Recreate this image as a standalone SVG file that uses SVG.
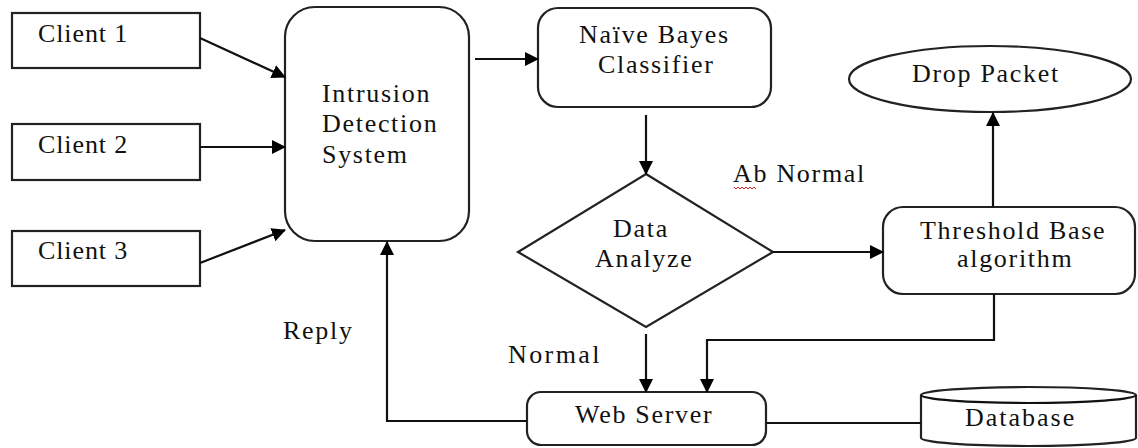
<svg xmlns="http://www.w3.org/2000/svg" width="1138" height="448" viewBox="0 0 1138 448">
<style>
.box{fill:#fff;stroke:#222;stroke-width:2.2}
.ln{fill:none;stroke:#111;stroke-width:2.2}
.t{font-family:"Liberation Serif","Times New Roman",serif;font-size:26px;fill:#111;letter-spacing:1.7px}
.c{letter-spacing:0.9px}
</style>
<defs>
<marker id="ah" markerUnits="userSpaceOnUse" markerWidth="14" markerHeight="14" refX="13" refY="7" orient="auto">
<path d="M0,0 L14,7 L0,14 z" fill="#000"/>
</marker>
</defs>
<rect width="1138" height="448" fill="#fff"/>
<g id="client1"><rect class="box" x="12" y="13" width="188" height="55"/><text class="t c" x="38" y="42">Client 1</text></g>
<g id="client2"><rect class="box" x="12" y="124" width="188" height="56"/><text class="t c" x="38" y="153">Client 2</text></g>
<g id="client3"><rect class="box" x="12" y="231" width="188" height="55"/><text class="t c" x="38" y="259">Client 3</text></g>
<g id="ids"><rect class="box" x="285" y="7" width="184" height="234" rx="30"/>
<text class="t" x="322" y="102">Intrusion</text><text class="t" x="322" y="132">Detection</text><text class="t" x="322" y="163">System</text></g>
<g id="naive-bayes"><rect class="box" x="538" y="8" width="233" height="99" rx="20"/>
<text class="t" x="579" y="43">Naïve Bayes</text><text class="t" x="598" y="73">Classifier</text></g>
<g id="drop-packet"><ellipse class="box" cx="990" cy="79" rx="141" ry="33"/><text class="t" x="912" y="82">Drop Packet</text></g>
<g id="data-analyze"><polygon class="box" points="646,174 773,252 646,327 518,252"/>
<text class="t" x="613" y="237">Data</text><text class="t" x="595" y="267">Analyze</text></g>
<g id="threshold"><rect class="box" x="883" y="207" width="252" height="87" rx="20"/>
<text class="t" x="920" y="239">Threshold Base</text><text class="t" x="957" y="267">algorithm</text></g>
<g id="web-server"><rect class="box" x="527" y="392" width="239" height="53" rx="14"/><text class="t" x="575" y="423">Web Server</text></g>
<g id="database"><path class="box" d="M921,395 A107.5,8 0 0,1 1136,395 V438 A107.5,8 0 0,1 921,438 Z"/><path class="ln" d="M921,395 A107.5,8 0 0,0 1136,395"/><text class="t" x="965" y="426" style="letter-spacing:2px">Database</text></g>
<g id="labels">
<text class="t" x="733" y="182">Ab Normal</text>
<path d="M734,187 l2,2 l2,-2 l2,2 l2,-2 l2,2 l2,-2 l2,2 l2,-2 l2,2 l2,-2 l2,2" fill="none" stroke="#d22" stroke-width="1"/>
<text class="t" x="508" y="363" style="letter-spacing:2.4px">Normal</text>
<text class="t" x="283" y="339">Reply</text>
</g>
<g id="connectors">
<line class="ln" x1="200" y1="38" x2="285" y2="77" marker-end="url(#ah)"/>
<line class="ln" x1="200" y1="147" x2="285" y2="147" marker-end="url(#ah)"/>
<line class="ln" x1="200" y1="263" x2="285" y2="230" marker-end="url(#ah)"/>
<line class="ln" x1="475" y1="59" x2="538" y2="59" marker-end="url(#ah)"/>
<line class="ln" x1="646" y1="115" x2="646" y2="174" marker-end="url(#ah)"/>
<line class="ln" x1="773" y1="252" x2="883" y2="252" marker-end="url(#ah)"/>
<line class="ln" x1="993" y1="207" x2="993" y2="113" marker-end="url(#ah)"/>
<line class="ln" x1="646" y1="334" x2="646" y2="392" marker-end="url(#ah)"/>
<polyline class="ln" points="994,294 994,340 707,340 707,392" marker-end="url(#ah)"/>
<polyline class="ln" points="527,421 387,421 387,242" marker-end="url(#ah)"/>
<line class="ln" x1="766" y1="423" x2="921" y2="423"/>
</g>
</svg>
